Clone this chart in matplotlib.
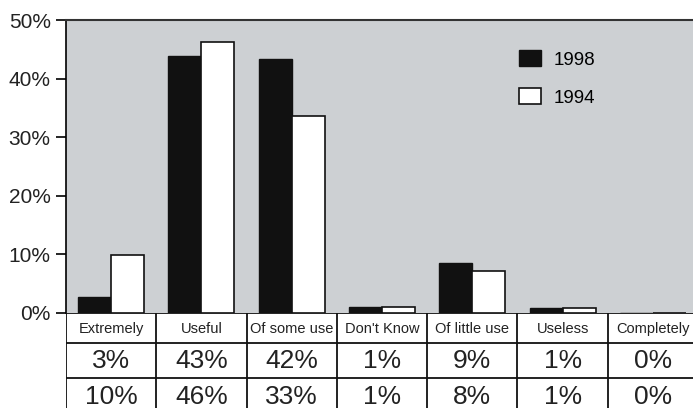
import numpy as np
import matplotlib.pyplot as plt

# %%
# survey answers, share of respondents per year
categories = ['Extremely', 'Useful', 'Of some use', "Don't Know",
              'Of little use', 'Useless', 'Completely']
share_1998 = [2.8, 43.9, 43.4, 1.0, 8.6, 0.8, 0.0]
share_1994 = [9.9, 46.3, 33.7, 1.0, 7.2, 0.8, 0.0]
labels_1998 = ['3%', '43%', '42%', '1%', '9%', '1%', '0%']
labels_1994 = ['10%', '46%', '33%', '1%', '8%', '1%', '0%']
y_ticks = [0, 10, 20, 30, 40, 50]

FONT = 'Liberation Sans'
W, H = 693, 408

# %%
fig = plt.figure(figsize=(W / 100, H / 100), dpi=100)
fig.patch.set_facecolor('white')

# bar area in pixel terms: left 66, right 698, top 20, zero line 313
ax = fig.add_axes([66 / W, (H - 313) / H, 632 / W, 293 / H])
ax.set_facecolor('#cdd0d3')

x = np.arange(len(categories))
bar_w = 0.365
ax.bar(x - bar_w / 2, share_1998, bar_w, color='#111111', edgecolor='#111111',
       linewidth=1, label='1998', zorder=2)
ax.bar(x + bar_w / 2, share_1994, bar_w, color='white', edgecolor='#111111',
       linewidth=1.2, label='1994', zorder=2)

ax.set_xlim(-0.5, len(categories) - 0.5)
ax.set_ylim(0, 50)
ax.set_yticks(y_ticks)
ax.set_yticklabels([f'{t}%' for t in y_ticks], fontsize=15, family=FONT, color='#222222')
ax.tick_params(axis='y', direction='out', length=7, width=1.2, pad=4)
ax.set_xticks([])
for side in ['right', 'bottom']:
    ax.spines[side].set_visible(False)
ax.spines['left'].set_linewidth(1.2)
ax.spines['top'].set_linewidth(1.5)
ax.spines['top'].set_color('#333333')

ax.legend(loc='upper left', bbox_to_anchor=(519 / W, 1 - 50 / H),
          bbox_transform=fig.transFigure, frameon=False, borderpad=0,
          borderaxespad=0, handlelength=1.15, handleheight=0.95,
          handletextpad=0.7, labelspacing=1.05,
          prop={'family': FONT, 'size': 13.5})

# %%
# data table under the bars, same x scale
tab = fig.add_axes([66 / W, (H - 413) / H, 632 / W, 100 / H], sharex=ax)
tab.set_facecolor('white')
tab.set_ylim(100, 0)
tab.axis('off')
tab.set_xlim(-0.5, len(categories) - 0.5)

for yl in [0, 30, 65]:
    tab.axhline(yl, color='#111111', linewidth=1.3)
for xl in np.arange(len(categories)) - 0.5:
    tab.axvline(xl, color='#111111', linewidth=1.3)

for i, cat in enumerate(categories):
    tab.text(i, 16, cat, ha='center', va='center', fontsize=10.5,
             family=FONT, color='#222222')
    tab.text(i, 48, labels_1998[i], ha='center', va='center', fontsize=19,
             family=FONT, color='#222222')
    tab.text(i, 84, labels_1994[i], ha='center', va='center', fontsize=19,
             family=FONT, color='#222222')

fig.savefig('out.png', dpi=100)
